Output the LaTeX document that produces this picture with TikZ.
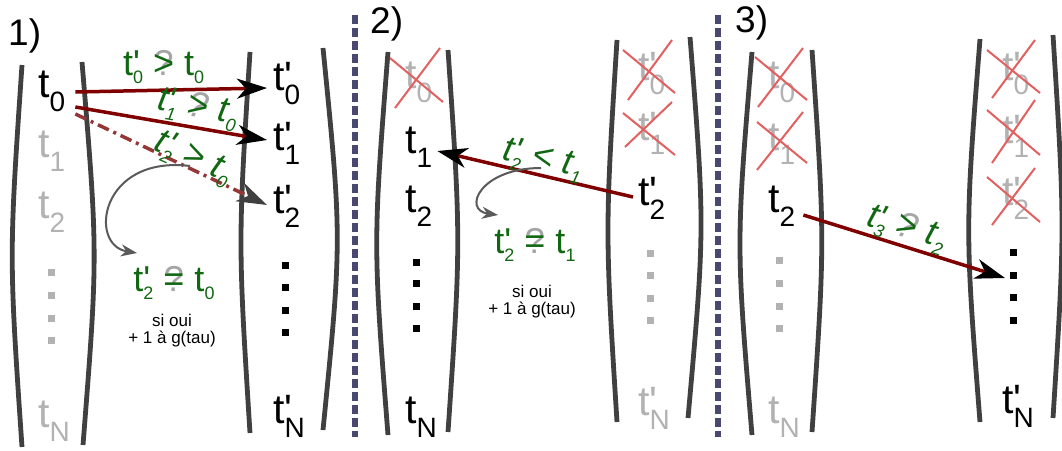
\documentclass[tikz,border=0pt]{standalone}
\usepackage{fontspec}
\setmainfont{Liberation Sans}[Ligatures=TeXOff]
\usetikzlibrary{arrows.meta}
\definecolor{lblgreen}{RGB}{18,104,18}
\definecolor{ghost}{RGB}{178,178,178}
\definecolor{qmark}{RGB}{165,165,165}
\definecolor{arrred}{RGB}{128,0,0}
\definecolor{dashred}{RGB}{150,55,55}
\definecolor{xred}{RGB}{226,96,96}
\definecolor{colgray}{RGB}{64,64,64}
\definecolor{sepblue}{RGB}{72,72,112}
\definecolor{curvegray}{RGB}{90,90,90}
\newcommand{\Tb}[2]{t\rlap{#1}\raisebox{-14pt}{\fontsize{28}{28}\selectfont #2}}
\newcommand{\Tl}[2]{t\rlap{#1}\raisebox{-8pt}{\fontsize{18}{18}\selectfont #2}}
\newcommand{\qover}[1]{\ooalign{\hfil\textcolor{qmark}{?}\hfil\cr\hfil#1\hfil\cr}}
\tikzset{
  bigt/.style={inner sep=0pt, anchor=base west, font=\fontsize{41}{41}\selectfont},
  ghostt/.style={bigt, text=ghost},
  lbl/.style={inner sep=0pt, anchor=base, text=lblgreen, font=\fontsize{36}{36}\selectfont},
  ilbl/.style={lbl, font=\fontsize{36}{36}\selectfont\itshape},
  note/.style={inner sep=0pt, anchor=north, align=center, font=\fontsize{17}{17}\selectfont},
  panel/.style={inner sep=0pt, anchor=base west, font=\fontsize{37}{37}\selectfont},
  colline/.style={draw=colgray, line width=4.8pt},
  sepline/.style={draw=sepblue, line width=6pt, dash pattern=on 9pt off 4pt},
  cross/.style={draw=xred, line width=2pt},
  arr/.style={draw=arrred, line width=3.5pt, -{Stealth[length=30pt,width=20pt,inset=9pt,color=black]}},
  darr/.style={draw=dashred, line width=3.5pt, dash pattern=on 12pt off 5pt on 3pt off 5pt, -{Stealth[length=30pt,width=20pt,inset=9pt,color=black!75]}},
  curv/.style={draw=curvegray, line width=2pt, -{Stealth[length=16pt,width=12pt,inset=5pt]}},
  bdot/.style={fill=black, inner sep=0pt, minimum size=7pt},
  gdot/.style={fill=ghost, inner sep=0pt, minimum size=7pt},
}
\begin{document}
\begin{tikzpicture}[x=1pt,y=-1pt]
\useasboundingbox (0,0) rectangle (1062,450);
\fill[white] (0,0) rectangle (1062,450);

% column brackets
\draw[colline] (22,65) .. controls (9,256) .. (22,447);
\draw[colline] (82,62) .. controls (98,254) .. (83,445);
\draw[colline] (250,52) .. controls (238,242) .. (250,433);
\draw[colline] (323,48) .. controls (342,239) .. (323,430);
\draw[colline] (388,52) .. controls (373,244) .. (388,435);
\draw[colline] (448,50) .. controls (461,241) .. (448,432);
\draw[colline] (617,40) .. controls (605,231) .. (617,422);
\draw[colline] (690,37) .. controls (705,228) .. (688,418);
\draw[colline] (752,52) .. controls (736,244) .. (752,435);
\draw[colline] (812,50) .. controls (825,241) .. (812,432);
\draw[colline] (980,39) .. controls (965,230) .. (980,422);
\draw[colline] (1053,35) .. controls (1065,227) .. (1053,418);

% separators
\draw[sepline] (355,15) -- (355,437);
\draw[sepline] (718,15) -- (718,437);

% panel titles
\node[panel] (p1) at (8,45) {1)};
\node[panel] (p2) at (370,33) {2)};
\node[panel] (p3) at (735,32) {3)};

% ---------- panel 1 ----------
\node[bigt] (a0) at (38,97) {\Tb{}{0}};
\node[ghostt] (a1) at (38,157) {\Tb{}{1}};
\node[ghostt] (a2) at (38,218) {\Tb{}{2}};
\node[gdot] (ad1) at (51,272) {};
\node[gdot] (ad2) at (51,295) {};
\node[gdot] (ad3) at (51,318) {};
\node[gdot] (ad4) at (51,340) {};
\node[ghostt] (aN) at (38,427) {\Tb{}{N}};

\node[bigt] (b0) at (273,90) {\Tb{'}{0}};
\node[bigt] (b1) at (273,150) {\Tb{'}{1}};
\node[bigt] (b2) at (273,213) {\Tb{'}{2}};
\node[bdot] (bd1) at (285,265) {};
\node[bdot] (bd2) at (285,287) {};
\node[bdot] (bd3) at (285,310) {};
\node[bdot] (bd4) at (285,332) {};
\node[bigt] (bN) at (273,423) {\Tb{'}{N}};

\draw[arr] ([shift={(10pt,5pt)}]a0.base east) -- ([shift={(-6pt,2pt)}]b0.base west);
\draw[arr] ([shift={(10pt,-10pt)}]a0.base east) -- ([shift={(-6pt,10pt)}]b1.base west);
\draw[darr] ([shift={(10pt,-17pt)}]a0.base east) -- ([shift={(-6pt,8pt)}]b2.base west);

\node[lbl, anchor=base west] (q1) at (123,75) {\Tl{'}{0} \qover{>} \Tl{}{0}};
\node[ilbl, rotate=-10] (q2) at (196,117) {\Tl{'}{1} \qover{>} \Tl{}{0}};
\node[ilbl, rotate=-24] (q3) at (190,166) {\Tl{'}{2} > \Tl{}{0}};

\node[lbl] (e1) at (174,291) {\Tl{'}{2} \qover{=} \Tl{}{0}};
\node[note] (n1) at (172,314) {si oui\\+ 1 à g(tau)};
\coordinate (e1tip) at (137,253);
\draw[curv] (q3.base) .. controls (100,155) and (88,245) .. (e1tip);

% ---------- panel 2 ----------
\node[ghostt] (c0) at (405,88) {\Tb{}{0}};
\draw[cross] (390,58) -- (443,102);
\draw[cross] (440,48) -- (395,108);
\node[bigt] (c1) at (405,153) {\Tb{}{1}};
\node[bigt] (c2) at (405,212) {\Tb{}{2}};
\node[bdot] (cd1) at (416,262) {};
\node[bdot] (cd2) at (416,283) {};
\node[bdot] (cd3) at (416,306) {};
\node[bdot] (cd4) at (416,328) {};
\node[bigt] (cN) at (405,423) {\Tb{}{N}};

\node[ghostt] (d0) at (638,80) {\Tb{'}{0}};
\draw[cross] (623,50) -- (675,93);
\draw[cross] (672,40) -- (628,100);
\node[ghostt] (d1) at (638,140) {\Tb{'}{1}};
\draw[cross] (623,113) -- (675,155);
\draw[cross] (672,102) -- (625,147);
\node[bigt] (d2) at (638,205) {\Tb{'}{2}};
\node[gdot] (dd1) at (650,253) {};
\node[gdot] (dd2) at (650,275) {};
\node[gdot] (dd3) at (650,298) {};
\node[gdot] (dd4) at (650,320) {};
\node[ghostt] (dN) at (638,415) {\Tb{'}{N}};

\draw[arr] ([shift={(-5pt,8pt)}]d2.base west) -- ([shift={(5pt,2pt)}]c1.base east);
\node[ilbl, rotate=-12.6] (q4) at (541,168) {\Tl{'}{2} < \Tl{}{1}};
\node[lbl] (e2) at (535,253) {\Tl{'}{2} \qover{=} \Tl{}{1}};
\node[note] (n2) at (532,285) {si oui\\+ 1 à g(tau)};
\coordinate (e2tip) at (498,215);
\draw[curv] (q4.base) .. controls (480,168) and (462,210) .. (e2tip);

% ---------- panel 3 ----------
\node[ghostt] (f0) at (768,88) {\Tb{}{0}};
\draw[cross] (755,57) -- (807,100);
\draw[cross] (803,48) -- (758,107);
\node[ghostt] (f1) at (768,150) {\Tb{}{1}};
\draw[cross] (757,122) -- (807,163);
\draw[cross] (803,112) -- (757,170);
\node[bigt] (f2) at (768,212) {\Tb{}{2}};
\node[gdot] (fd1) at (779,260) {};
\node[gdot] (fd2) at (779,283) {};
\node[gdot] (fd3) at (779,306) {};
\node[gdot] (fd4) at (779,328) {};
\node[ghostt] (fN) at (768,423) {\Tb{}{N}};

\node[ghostt] (g0) at (1002,80) {\Tb{'}{0}};
\draw[cross] (987,50) -- (1040,93);
\draw[cross] (1035,40) -- (992,98);
\node[ghostt] (g1) at (1002,143) {\Tb{'}{1}};
\draw[cross] (987,110) -- (1040,155);
\draw[cross] (1035,100) -- (992,163);
\node[ghostt] (g2) at (1002,205) {\Tb{'}{2}};
\draw[cross] (987,177) -- (1040,222);
\draw[cross] (1035,168) -- (992,225);
\node[bdot] (gd1) at (1013,252) {};
\node[bdot] (gd2) at (1013,275) {};
\node[bdot] (gd3) at (1013,297) {};
\node[bdot] (gd4) at (1013,320) {};
\node[bigt] (gN) at (1002,413) {\Tb{'}{N}};

\draw[arr] ([shift={(8pt,-3pt)}]f2.base east) -- ([shift={(-8pt,-3pt)}]gd2.center);
\node[ilbl, rotate=-17] (q5) at (904,237) {\Tl{'}{3} \qover{>} \Tl{}{2}};
\end{tikzpicture}
\end{document}
